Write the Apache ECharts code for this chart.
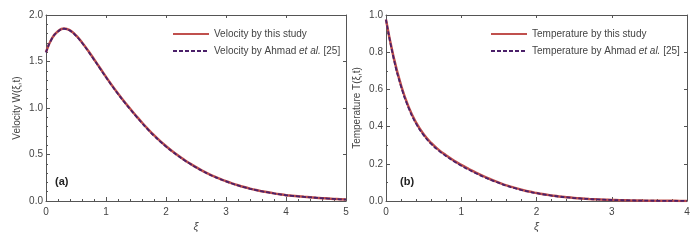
<!DOCTYPE html>
<html>
<head>
<meta charset="utf-8">
<script src="https://cdn.jsdelivr.net/npm/echarts@6/dist/echarts.min.js"></script>
<style>html,body{margin:0;padding:0;background:#fff}#c{width:700px;height:241px}</style>
</head>
<body>
<div id="c"></div>
<script>
const xiW = [0,0.1,0.2,0.3,0.4,0.5,0.6,0.7,0.8,0.9,1.0,1.1,1.2,1.3,1.4,1.5,1.6,1.7,1.8,1.9,2.0,2.1,2.2,2.3,2.4,2.5,2.6,2.7,2.8,2.9,3.0,3.1,3.2,3.3,3.4,3.5,3.6,3.7,3.8,3.9,4.0,4.1,4.2,4.3,4.4,4.5,4.6,4.7,4.8,4.9,5.0];
const velStudy = [1.600,1.750,1.825,1.855,1.835,1.780,1.705,1.618,1.525,1.430,1.335,1.243,1.155,1.072,0.994,0.917,0.843,0.773,0.707,0.646,0.590,0.538,0.490,0.445,0.403,0.364,0.328,0.295,0.265,0.238,0.213,0.190,0.169,0.150,0.133,0.118,0.105,0.093,0.082,0.072,0.063,0.0565,0.0505,0.045,0.040,0.0352,0.0307,0.0265,0.0225,0.0187,0.0152];
const velAhmad = [1.598,1.748,1.822,1.852,1.832,1.776,1.701,1.613,1.520,1.425,1.330,1.238,1.150,1.067,0.989,0.912,0.838,0.768,0.702,0.641,0.585,0.534,0.486,0.441,0.400,0.361,0.325,0.292,0.262,0.236,0.211,0.188,0.167,0.148,0.131,0.117,0.104,0.092,0.081,0.071,0.062,0.0557,0.0498,0.0444,0.0395,0.0348,0.0303,0.0262,0.0222,0.0185,0.0150];
const xiT = [0,0.1,0.2,0.3,0.4,0.5,0.6,0.7,0.8,0.9,1.0,1.1,1.2,1.3,1.4,1.5,1.6,1.7,1.8,1.9,2.0,2.1,2.2,2.3,2.4,2.5,2.6,2.7,2.8,2.9,3.0,3.1,3.2,3.3,3.4,3.5,3.6,3.7,3.8,3.9,4.0];
const tempStudy = [0.975,0.775,0.622,0.506,0.421,0.359,0.312,0.275,0.245,0.218,0.194,0.172,0.151,0.132,0.115,0.099,0.084,0.072,0.061,0.051,0.043,0.036,0.030,0.0245,0.0202,0.0165,0.0135,0.0109,0.0088,0.0071,0.0057,0.0045,0.0036,0.0028,0.0022,0.0017,0.0013,0.0010,0.0008,0.0006,0.0005];
const tempAhmad = [0.975,0.770,0.616,0.501,0.416,0.354,0.307,0.271,0.241,0.214,0.190,0.168,0.148,0.129,0.112,0.097,0.082,0.070,0.059,0.050,0.042,0.035,0.029,0.0238,0.0196,0.0160,0.0131,0.0106,0.0085,0.0069,0.0055,0.0044,0.0035,0.0027,0.0021,0.0016,0.0012,0.0009,0.0007,0.0005,0.0004];

const pairs = (xs, ys) => xs.map((x, i) => [x, ys[i]]);
const FONT = 'Liberation Sans, Arial, sans-serif';
const lblColor = '#444';
const axisCol = '#555';

function xAxisMain(gi, max, name) {
  return {
    type: 'value', gridIndex: gi, min: 0, max: max, interval: 1,
    name: name, nameLocation: 'middle', nameGap: 17,
    nameTextStyle: { fontFamily: FONT, fontSize: 11, fontStyle: 'italic', color: '#444' },
    axisLine: { show: true, onZero: false, lineStyle: { color: axisCol, width: 1 } },
    axisTick: { show: true, inside: true, length: 4, lineStyle: { color: axisCol } },
    minorTick: { show: true, splitNumber: 5, length: 2, lineStyle: { color: axisCol } },
    axisLabel: { fontFamily: FONT, fontSize: 10, color: lblColor, margin: 6, formatter: v => String(v) },
    splitLine: { show: false }
  };
}
function xAxisTop(gi, max) {
  return {
    type: 'value', gridIndex: gi, position: 'top', min: 0, max: max, interval: 1,
    axisLine: { show: true, onZero: false, lineStyle: { color: axisCol, width: 1 } },
    axisTick: { show: true, inside: true, length: 3, lineStyle: { color: axisCol } },
    axisLabel: { show: false }, splitLine: { show: false }
  };
}
function yAxisMain(gi, max, interval, minorSplit, name, dec) {
  return {
    type: 'value', gridIndex: gi, min: 0, max: max, interval: interval,
    name: name, nameLocation: 'middle', nameGap: 24,
    nameTextStyle: { fontFamily: FONT, fontSize: 10, color: '#444' },
    axisLine: { show: true, onZero: false, lineStyle: { color: axisCol, width: 1 } },
    axisTick: { show: true, inside: true, length: 4, lineStyle: { color: axisCol } },
    minorTick: { show: true, splitNumber: minorSplit, length: 2, lineStyle: { color: axisCol } },
    axisLabel: { fontFamily: FONT, fontSize: 10, color: lblColor, margin: 3, formatter: v => v.toFixed(dec) },
    splitLine: { show: false }
  };
}
function yAxisRight(gi, max, interval) {
  return {
    type: 'value', gridIndex: gi, position: 'right', min: 0, max: max, interval: interval,
    axisLine: { show: true, onZero: false, lineStyle: { color: axisCol, width: 1 } },
    axisTick: { show: true, inside: true, length: 3, lineStyle: { color: axisCol } },
    axisLabel: { show: false }, splitLine: { show: false }
  };
}

const RED = '#c0504d';
const PURPLE = '#4b2069';
const legendText = {
  fontFamily: FONT, fontSize: 10, color: '#444',
  rich: { i: { fontStyle: 'italic', fontFamily: FONT, fontSize: 10, color: '#444' } }
};

const chart = echarts.init(document.getElementById('c'), null, { renderer: 'canvas' });
chart.setOption({
  animation: false,
  backgroundColor: '#fff',
  grid: [
    { left: 46, top: 15, width: 300, height: 186 },
    { left: 386, top: 15, width: 301, height: 186 }
  ],
  xAxis: [
    xAxisMain(0, 5, 'ξ'), xAxisTop(0, 5),
    xAxisMain(1, 4, 'ξ'), xAxisTop(1, 4)
  ],
  yAxis: [
    yAxisMain(0, 2.0, 0.5, 5, 'Velocity W(ξ,t)', 1), yAxisRight(0, 2.0, 0.5),
    yAxisMain(1, 1.0, 0.2, 2, 'Temperature T(ξ,t)', 1), yAxisRight(1, 1.0, 0.2)
  ],
  legend: [
    {
      data: ['Velocity by this study', 'Velocity by Ahmad et al. [25]'],
      left: 167, top: 24, orient: 'vertical', itemGap: 7, itemWidth: 36, itemHeight: 12,
      itemStyle: { opacity: 0 },
      textStyle: legendText,
      formatter: n => n.replace('et al.', '{i|et al.}')
    },
    {
      data: ['Temperature by this study', 'Temperature by Ahmad et al. [25]'],
      left: 485, top: 24, orient: 'vertical', itemGap: 7, itemWidth: 36, itemHeight: 12,
      itemStyle: { opacity: 0 },
      textStyle: legendText,
      formatter: n => n.replace('et al.', '{i|et al.}')
    }
  ],
  graphic: [
    { type: 'text', left: 55, top: 176, style: { text: '(a)', fontFamily: FONT, fontSize: 11, fontWeight: 'bold', fill: '#222' } },
    { type: 'text', left: 400, top: 176, style: { text: '(b)', fontFamily: FONT, fontSize: 11, fontWeight: 'bold', fill: '#222' } }
  ],
  series: [
    { name: 'Velocity by this study', type: 'line', xAxisIndex: 0, yAxisIndex: 0, data: pairs(xiW, velStudy), smooth: true, symbol: 'none', lineStyle: { color: RED, width: 2.5 }, itemStyle: { color: RED } },
    { name: 'Velocity by Ahmad et al. [25]', type: 'line', xAxisIndex: 0, yAxisIndex: 0, data: pairs(xiW, velAhmad), smooth: true, symbol: 'none', lineStyle: { color: PURPLE, width: 1.8, type: [4, 2] }, itemStyle: { color: PURPLE } },
    { name: 'Temperature by this study', type: 'line', xAxisIndex: 2, yAxisIndex: 2, data: pairs(xiT, tempStudy), smooth: true, symbol: 'none', lineStyle: { color: RED, width: 2.5 }, itemStyle: { color: RED } },
    { name: 'Temperature by Ahmad et al. [25]', type: 'line', xAxisIndex: 2, yAxisIndex: 2, data: pairs(xiT, tempAhmad), smooth: true, symbol: 'none', lineStyle: { color: PURPLE, width: 1.8, type: [4, 2] }, itemStyle: { color: PURPLE } }
  ]
});
</script>
</body>
</html>
